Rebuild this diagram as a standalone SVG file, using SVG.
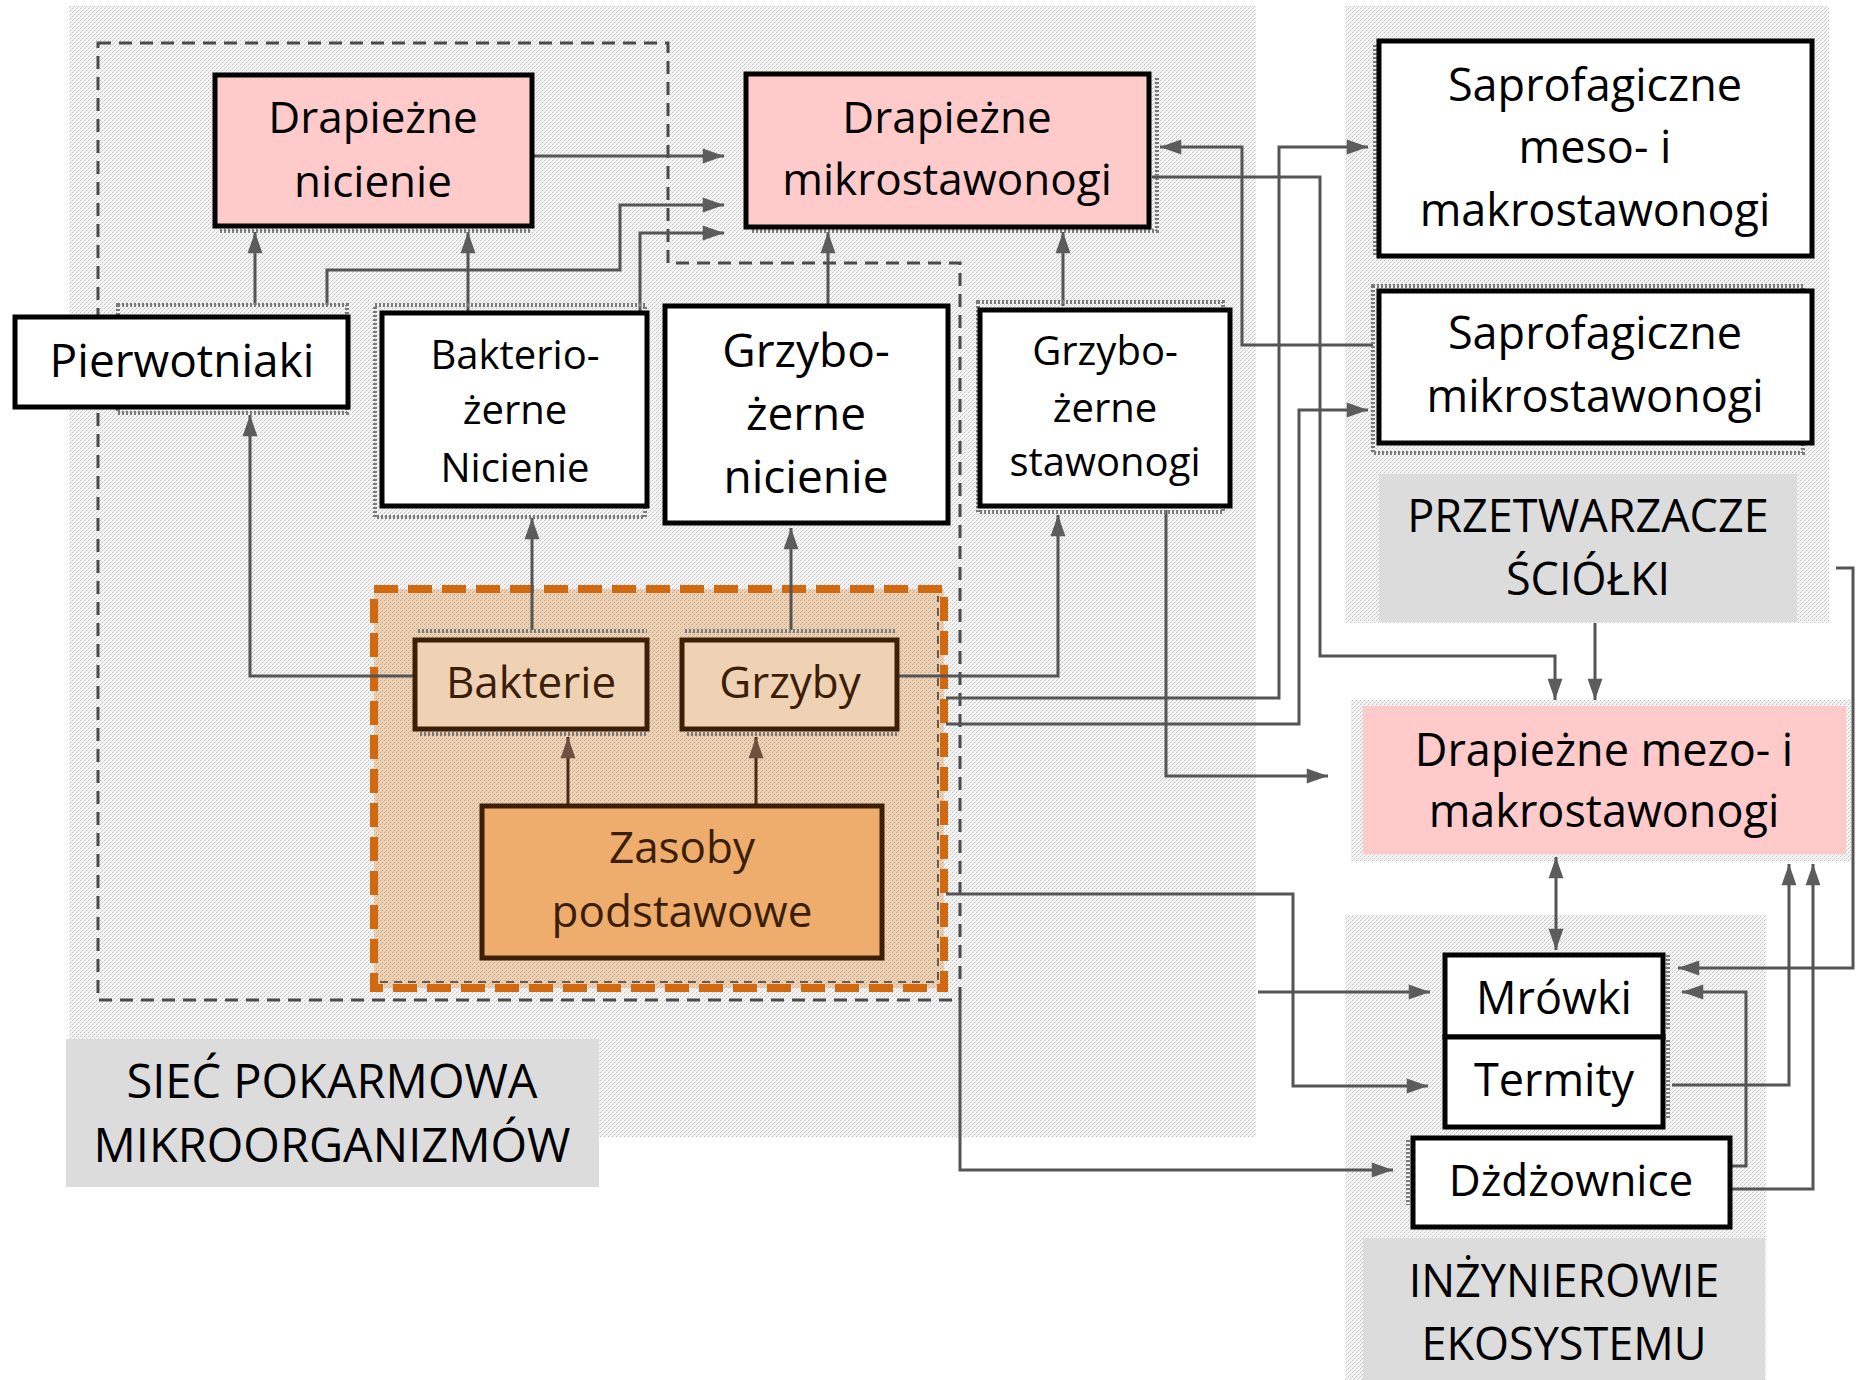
<svg xmlns="http://www.w3.org/2000/svg" width="1862" height="1380" viewBox="0 0 1862 1380">
<defs>
<pattern id="stip" width="4" height="4" patternUnits="userSpaceOnUse">
<rect width="4" height="4" fill="#f4f4f4"/>
<rect x="0" y="0" width="1" height="1" fill="#bdbdbd"/>
<rect x="2" y="2" width="1" height="1" fill="#c4c4c4"/>
<rect x="1" y="3" width="1" height="1" fill="#dadada"/>
<rect x="3" y="1" width="1" height="1" fill="#e0e0e0"/>
</pattern>
<pattern id="stipO" width="4" height="4" patternUnits="userSpaceOnUse">
<rect width="4" height="4" fill="#edd1b4"/>
<rect x="0" y="0" width="1" height="1" fill="#c4a487"/>
<rect x="2" y="2" width="1" height="1" fill="#c4a487"/>
<rect x="1" y="3" width="1" height="1" fill="#dcbfa2"/>
</pattern>
<marker id="ah" viewBox="0 0 20 16" refX="20" refY="8" markerWidth="22" markerHeight="17" markerUnits="userSpaceOnUse" orient="auto-start-reverse">
<path d="M0,1 L20,8 L0,15 z" fill="#5c5c5c"/>
</marker>
<marker id="ahb" viewBox="0 0 20 16" refX="20" refY="8" markerWidth="22" markerHeight="17" markerUnits="userSpaceOnUse" orient="auto">
<path d="M0,1 L20,8 L0,15 z" fill="#6e5040"/>
</marker>
</defs>
<style>
.t{font-family:"Open Sans","Noto Sans","DejaVu Sans",sans-serif;fill:#000;text-anchor:middle}
.tb{fill:#3b1e08}
.box{stroke:#000;stroke-width:5;fill:#fff}
.pink{fill:#ffcaca}
.lab{fill:#dcdcdc}
.ob{stroke:#3d1f05;stroke-width:5}
.c{fill:none;stroke:#555;stroke-width:3;marker-end:url(#ah)}
.cb{fill:none;stroke:#4a2c14;stroke-width:3;marker-end:url(#ahb)}
.sh{fill:none;stroke:#7a7a7a;stroke-width:4;stroke-dasharray:2 2}
</style>

<g id="backgrounds">
<rect x="69" y="6" width="1187" height="1131" fill="url(#stip)"/>
<rect x="1345" y="6" width="484" height="617" fill="url(#stip)"/>
<rect x="1345" y="915" width="421" height="465" fill="url(#stip)"/>
<rect x="1351" y="700" width="500" height="162" fill="url(#stip)"/>
<path d="M98,43 H668 V263 H960 V1000 H98 Z" fill="none" stroke="#4a4a4a" stroke-width="3" stroke-dasharray="13 8"/>
</g>

<g id="group-orange">
<rect x="374" y="589" width="570" height="399" fill="url(#stipO)"/>
<path d="M380,982 H938 V596" fill="none" stroke="#6a5a50" stroke-width="2" stroke-dasharray="8 6"/>
<rect x="374" y="589" width="570" height="399" fill="none" stroke="#d0690f" stroke-width="8" stroke-dasharray="24 10"/>
</g>

<g id="connectors">
<path class="c" d="M255,305 V232"/>
<path class="c" d="M468,312 V232"/>
<path class="c" d="M327,305 V270 H620 V205 H724"/>
<path class="c" d="M640,312 V233 H724"/>
<path class="c" d="M532,156 H724"/>
<path class="c" d="M828,306 V232"/>
<path class="c" d="M1063,306 V232"/>
<path class="c" d="M1373,345 H1242 V147 H1160"/>
<path class="c" d="M1152,177 H1320 V656 H1555 V700"/>
<path class="c" d="M946,698 H1279 V147 H1368"/>
<path class="c" d="M946,724 H1299 V410 H1368"/>
<path class="c" d="M897,676 H1058 V515"/>
<path class="c" d="M1166,510 V776 H1328"/>
<path class="c" d="M1595,623 V700"/>
<path class="c" d="M1556,857 V950" marker-start="url(#ah)"/>
<path class="c" d="M1836,568 H1853 V968 H1678"/>
<path class="c" d="M1730,1166 H1746 V992 H1682"/>
<path class="c" d="M1672,1085 H1789 V864"/>
<path class="c" d="M1730,1189 H1813 V864"/>
<path class="c" d="M1258,992 H1430"/>
<path class="c" d="M946,894 H1293 V1086 H1428"/>
<path class="c" d="M960,999 V1170 H1393"/>
<path class="c" d="M415,676 H250 V415"/>
<path class="c" d="M532,630 V518"/>
<path class="c" d="M791,630 V528"/>
<path class="cb" d="M568,806 V737"/>
<path class="cb" d="M756,806 V737"/>
</g>

<g id="n-drap-nicienie">
<line class="sh" x1="220" y1="231" x2="532" y2="231"/>
<rect class="box pink" x="215" y="75" width="317" height="151"/>
<text class="t" font-size="44"><tspan x="373" y="133">Drapieżne</tspan><tspan x="373" y="197">nicienie</tspan></text>
</g>

<g id="n-drap-mikro">
<path class="sh" d="M1157,78 V231 H752"/>
<rect class="box pink" x="746" y="74" width="403" height="153"/>
<text class="t" font-size="44"><tspan x="947" y="133">Drapieżne</tspan><tspan x="947" y="195">mikrostawonogi</tspan></text>
</g>

<g id="n-pierwotniaki">
<rect class="sh" x="118" y="305" width="229" height="108"/>
<rect class="box" x="15" y="317" width="333" height="90"/>
<text class="t" font-size="46" x="182" y="377">Pierwotniaki</text>
</g>

<g id="n-bakteriozerne">
<rect class="sh" x="375" y="305" width="270" height="212"/>
<rect class="box" x="382" y="313" width="265" height="193"/>
<text class="t" font-size="40"><tspan x="515" y="369">Bakterio-</tspan><tspan x="515" y="424">żerne</tspan><tspan x="515" y="482">Nicienie</tspan></text>
</g>

<g id="n-grzybozerne-nicienie">
<rect class="box" x="665" y="306" width="283" height="217"/>
<text class="t" font-size="46"><tspan x="806" y="367">Grzybo-</tspan><tspan x="806" y="430">żerne</tspan><tspan x="806" y="493">nicienie</tspan></text>
</g>

<g id="n-grzybozerne-stawonogi">
<rect class="sh" x="978" y="302" width="245" height="210"/>
<rect class="box" x="980" y="310" width="250" height="196"/>
<text class="t" font-size="40"><tspan x="1105" y="365">Grzybo-</tspan><tspan x="1105" y="422">żerne</tspan><tspan x="1105" y="476">stawonogi</tspan></text>
</g>

<g id="n-sapro-meso">
<line class="sh" x1="1375" y1="45" x2="1375" y2="256"/>
<rect class="box" x="1379" y="41" width="433" height="215"/>
<text class="t" font-size="45"><tspan x="1595" y="101">Saprofagiczne</tspan><tspan x="1595" y="163">meso- i</tspan><tspan x="1595" y="226">makrostawonogi</tspan></text>
</g>

<g id="n-sapro-mikro">
<rect class="sh" x="1373" y="286" width="430" height="167"/>
<rect class="box" x="1379" y="291" width="433" height="152"/>
<text class="t" font-size="45"><tspan x="1595" y="349">Saprofagiczne</tspan><tspan x="1595" y="412">mikrostawonogi</tspan></text>
</g>

<g id="n-przetwarzacze">
<rect class="lab" x="1379" y="474" width="418" height="148"/>
<text class="t" font-size="45"><tspan x="1588" y="532">PRZETWARZACZE</tspan><tspan x="1588" y="595">ŚCIÓŁKI</tspan></text>
</g>

<g id="n-drap-mezo">
<rect class="pink" x="1363" y="706" width="483" height="148"/>
<text class="t" font-size="45"><tspan x="1604" y="766">Drapieżne mezo- i</tspan><tspan x="1604" y="827">makrostawonogi</tspan></text>
</g>

<g id="n-mrowki">
<line class="sh" x1="1668" y1="955" x2="1668" y2="1030"/>
<rect class="box" x="1445" y="955" width="218" height="82"/>
<text class="t" font-size="45" x="1554" y="1014">Mrówki</text>
</g>

<g id="n-termity">
<line class="sh" x1="1668" y1="1040" x2="1668" y2="1120"/>
<rect class="box" x="1445" y="1037" width="218" height="90"/>
<text class="t" font-size="45" x="1554" y="1096">Termity</text>
</g>

<g id="n-dzdzownice">
<line class="sh" x1="1408" y1="1140" x2="1408" y2="1205"/>
<rect class="box" x="1413" y="1138" width="317" height="89"/>
<text class="t" font-size="44" x="1571" y="1196">Dżdżownice</text>
</g>

<g id="n-inzynierowie">
<rect class="lab" x="1363" y="1238" width="402" height="142"/>
<text class="t" font-size="45"><tspan x="1564" y="1297">INŻYNIEROWIE</tspan><tspan x="1564" y="1360">EKOSYSTEMU</tspan></text>
</g>

<g id="n-siec">
<rect class="lab" x="66" y="1039" width="533" height="148"/>
<text class="t" font-size="47"><tspan x="332" y="1098">SIEĆ POKARMOWA</tspan><tspan x="332" y="1162">MIKROORGANIZMÓW</tspan></text>
</g>

<g id="n-bakterie">
<line class="sh" x1="418" y1="631" x2="647" y2="631"/>
<line class="sh" x1="420" y1="734" x2="647" y2="734"/>
<rect class="ob" x="415" y="640" width="232" height="89" fill="#efd1b3"/>
<text class="t tb" font-size="44" x="531" y="698">Bakterie</text>
</g>

<g id="n-grzyby">
<line class="sh" x1="685" y1="631" x2="897" y2="631"/>
<line class="sh" x1="687" y1="734" x2="897" y2="734"/>
<rect class="ob" x="682" y="640" width="215" height="89" fill="#efd1b3"/>
<text class="t tb" font-size="44" x="790" y="698">Grzyby</text>
</g>

<g id="n-zasoby">
<rect class="ob" x="482" y="806" width="400" height="152" fill="#eead6c"/>
<text class="t tb" font-size="44"><tspan x="682" y="863">Zasoby</tspan><tspan x="682" y="927">podstawowe</tspan></text>
</g>
</svg>
